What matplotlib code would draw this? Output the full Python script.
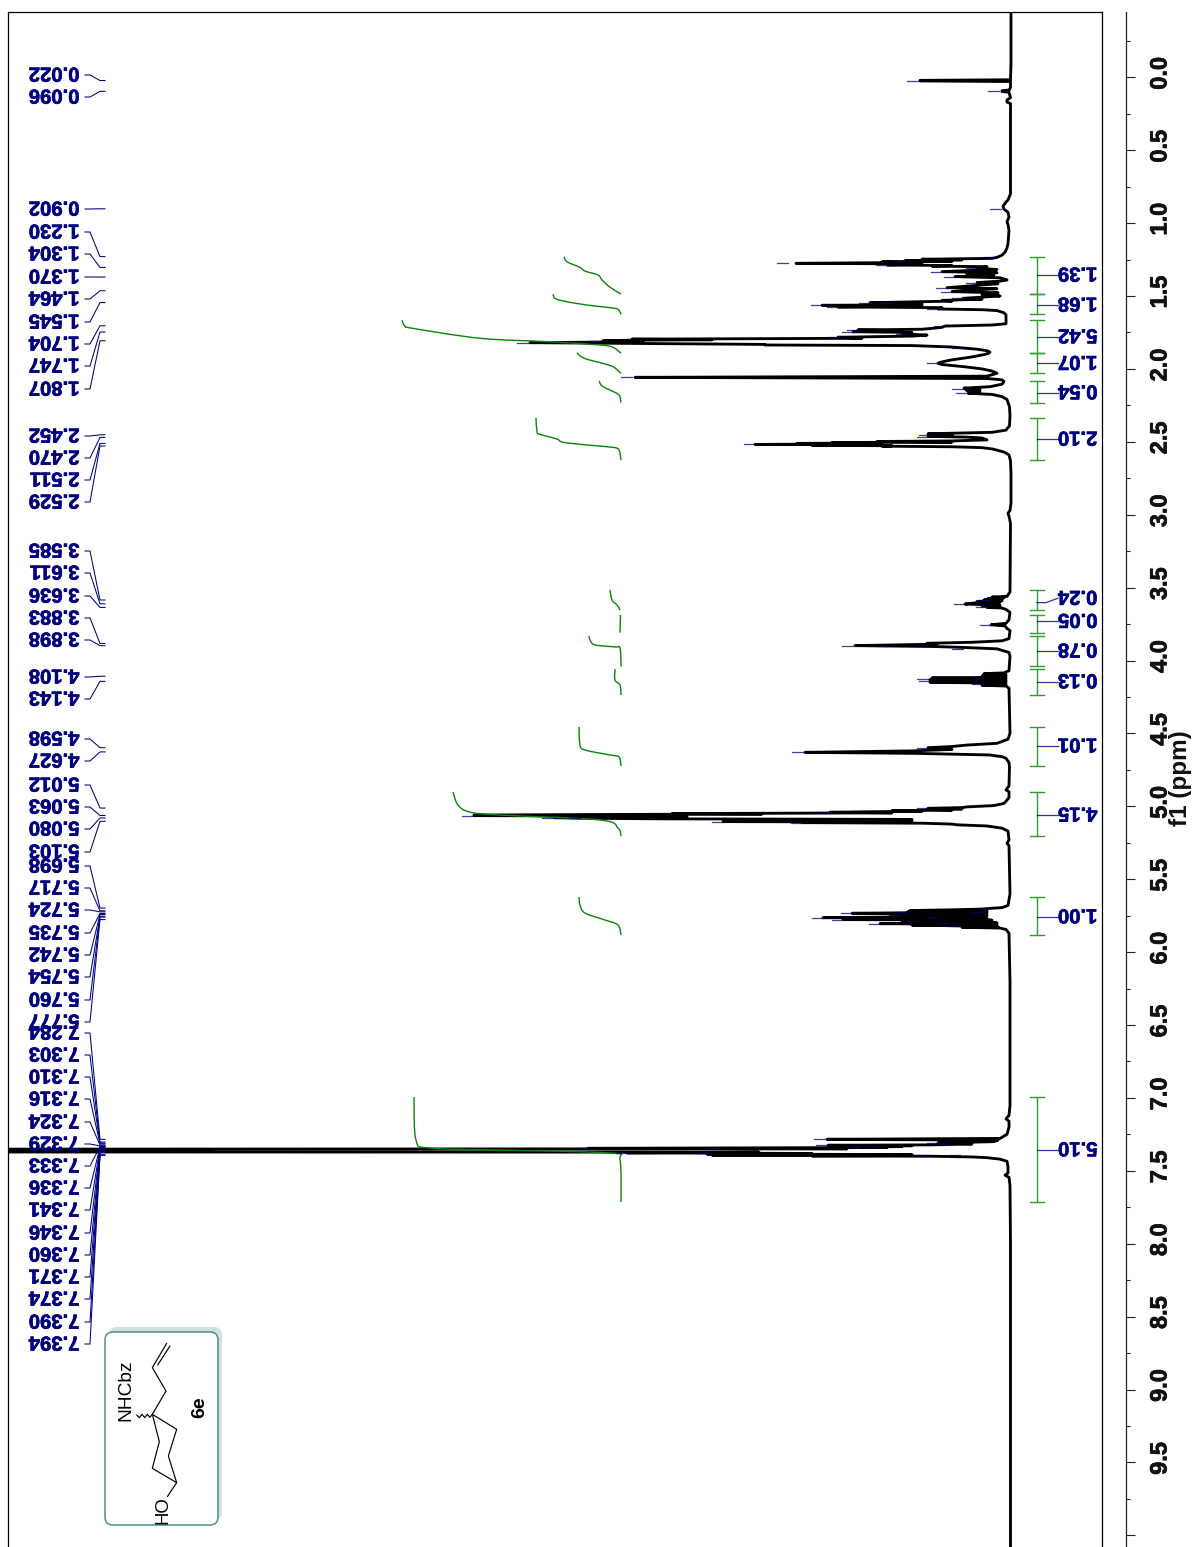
import numpy as np
import matplotlib
matplotlib.use("Agg")
import matplotlib.pyplot as plt
from matplotlib.patches import FancyBboxPatch, PathPatch
from matplotlib.path import Path
from matplotlib.transforms import ScaledTranslation
from matplotlib.ticker import MultipleLocator, FixedLocator
import matplotlib.patheffects as pe

plt.rcParams['font.family'] = ['Liberation Sans', 'DejaVu Sans']

# ---------- spectrum, (ppm, intensity) ----------
seg_upfield = [(-0.45,1),(-0.1,1),(0.0,1.5),(0.017,1.5),(0.021,92),(0.025,92),(0.029,1.5),(0.07,1.5),(0.088,3),(0.092,10),(0.098,10),(0.102,3),
 (0.14,1.5),(0.155,5),(0.17,5),(0.18,1.5),(0.5,1.5),(0.8,1.5),(0.84,4),(0.865,7),(0.885,9),(0.905,8),(0.925,4),(0.96,3),(0.99,5),(1.01,4),(1.05,3),(1.14,4)]
seg_aliphatic = [(1.17,5),(1.20,7),(1.22,10),(1.235,15),(1.242,20),(1.248,90),(1.252,50),(1.258,107),(1.262,60),(1.266,130),(1.27,100),
 (1.276,216),(1.28,90),(1.284,100),(1.287,125),(1.291,60),(1.295,80),(1.299,25),(1.305,30),(1.31,35),(1.318,15),(1.326,45),(1.333,70),
 (1.34,15),(1.35,45),(1.358,18),(1.367,57),(1.375,12),(1.383,8),(1.39,5),(1.398,12),(1.408,35),(1.416,14),(1.43,40),(1.443,65),(1.45,15),
 (1.46,40),(1.47,60),(1.478,14),(1.49,30),(1.50,12),(1.508,30),(1.516,49),(1.522,30),(1.53,70),(1.535,60),(1.546,142),(1.55,90),(1.555,130),
 (1.56,90),(1.564,190),(1.568,90),(1.575,174),(1.58,70),(1.589,74),(1.594,30),(1.60,15),(1.615,8),(1.63,6),(1.69,6),(1.699,20),(1.706,67),
 (1.715,70),(1.722,80),(1.728,90),(1.733,154),(1.738,110),(1.745,159),(1.75,100),(1.755,110),(1.761,105),(1.768,85),(1.775,100),(1.783,174),
 (1.79,150),(1.796,380),(1.80,300),(1.803,380),(1.807,409),(1.814,369),(1.82,482),(1.826,369),(1.832,247),(1.836,247),(1.84,100),(1.85,60),
 (1.865,35),(1.875,25),(1.885,22),(1.895,24),(1.905,30),(1.92,42),(1.94,62),(1.955,72),(1.962,74),(1.97,70),(1.985,48),(2.0,30),(2.015,20),(2.03,15),
 (2.05,25),(2.058,377),(2.066,25),(2.075,10),(2.087,8),(2.105,10),(2.122,22),(2.132,48),(2.14,32),(2.145,46),(2.155,32),(2.167,44),(2.175,20),
 (2.19,10),(2.21,5),(2.26,2.5),(2.32,2),(2.39,2.5),(2.42,6),(2.435,20),(2.445,84),(2.45,60),(2.453,82),(2.458,60),(2.463,84),(2.468,45),(2.474,30),
 (2.487,25),(2.494,60),(2.498,135),(2.502,60),(2.505,180),(2.508,130),(2.511,215),(2.514,130),(2.518,257),(2.521,130),(2.524,200),(2.527,120),
 (2.53,130),(2.534,60),(2.54,30),(2.55,19),(2.57,8),(2.59,3),(2.63,1.5),(2.72,1)]
seg_mid = [(2.92,1),(2.97,2),(2.99,4),(3.01,3),(3.06,1.5),(3.53,2),(3.56,5),(3.565,20),(3.57,8),(3.575,24),(3.58,10),(3.585,28),(3.59,10),
 (3.595,35),(3.60,12),(3.606,38),(3.613,47),(3.62,12),(3.625,30),(3.63,12),(3.636,25),(3.64,10),(3.65,6),(3.67,2),(3.72,3),(3.745,6),(3.755,21),
 (3.763,7),(3.78,5),(3.795,2),(3.85,3),(3.865,10),(3.875,40),(3.882,85),(3.888,75),(3.898,157),(3.904,78),(3.91,50),(3.92,15),(3.945,3),(3.97,2),
 (4.07,3),(4.085,8),(4.09,28),(4.095,6),(4.10,29),(4.105,6),(4.11,30),(4.115,6),(4.12,80),(4.125,6),(4.13,82),(4.135,6),(4.14,82),(4.145,6),
 (4.15,82),(4.155,6),(4.16,30),(4.165,6),(4.17,30),(4.175,6),(4.19,3),(4.5,2),(4.54,4),(4.568,15),(4.58,45),(4.59,60),(4.598,84),(4.61,60),(4.62,100),
 (4.63,207),(4.637,95),(4.648,22),(4.66,10),(4.671,6),(4.70,3),(4.73,2.5),(4.86,3),(4.888,6),(4.90,3),(4.94,3),(4.965,6)]
seg_allyl = [(4.98,8),(4.995,18),(5.004,45),(5.009,50),(5.014,84),(5.018,50),(5.022,85),(5.026,60),(5.03,120),(5.034,90),(5.038,150),(5.041,182),
 (5.045,120),(5.05,340),(5.053,250),(5.056,400),(5.06,538),(5.064,538),(5.067,380),(5.071,325),(5.075,400),(5.078,458),(5.082,432),(5.086,350),(5.09,100),
 (5.094,250),(5.098,100),(5.102,200),(5.105,289),(5.108,100),(5.112,210),(5.116,89),(5.122,60),(5.127,55),(5.135,25),(5.15,10),(5.17,4),(5.23,3),
 (5.254,5),(5.27,3),(5.6,2),(5.68,4),(5.695,10),(5.70,22),(5.705,30),(5.71,60),(5.715,102),(5.72,25),(5.722,104),(5.726,25),(5.73,100),(5.734,160),
 (5.738,25),(5.742,120),(5.745,112),(5.75,25),(5.755,100),(5.76,130),(5.764,189),(5.768,25),(5.772,100),(5.777,169),(5.781,20),(5.785,110),(5.79,20),
 (5.795,100),(5.80,15),(5.805,132),(5.81,15),(5.815,100),(5.82,52),(5.825,14),(5.83,50),(5.835,12),(5.845,6),(5.87,3),(6.2,2),(7.05,2)]
seg_aromatic = [(7.12,3),(7.144,6),(7.16,3),(7.2,3),(7.25,5),(7.27,10),(7.278,12),(7.284,185),(7.29,14),(7.30,18),(7.309,74),(7.316,40),(7.319,62),
 (7.322,80),(7.325,184),(7.328,100),(7.331,170),(7.334,110),(7.337,150),(7.34,125),(7.343,290),(7.346,424),(7.349,165),(7.353,1500),(7.356,800),
 (7.359,1500),(7.362,800),(7.365,1500),(7.368,800),(7.37,1400),(7.372,253),(7.377,385),(7.381,200),(7.385,305),(7.389,100),(7.392,300),(7.395,100),
 (7.398,200),(7.40,81),(7.405,40),(7.41,25),(7.42,12),(7.435,5),(7.47,4),(7.515,4),(7.53,7),(7.545,3),(7.6,2),(8.0,1.5),(10.1,1.5)]

# ---------- peak-pick marks: ppm, intensity at the mark ----------
mark_ppm = [0.023,0.096,0.903,1.230,1.258,1.276,1.287,1.310,1.333,1.367,1.408,1.443,1.470,1.516,1.546,1.546,1.564,1.575,1.589,1.706,1.733,1.745,
 1.761,1.783,1.820,1.807,1.859,1.962,2.058,2.135,2.167,2.453,2.469,2.517,3.585,3.613,3.635,3.759,3.898,3.898,3.894,3.921,4.118,4.127,4.141,4.161,
 4.598,4.630,5.014,5.041,5.064,5.078,5.083,5.105,5.112,5.700,5.722,5.725,5.734,5.745,5.757,5.764,5.777,5.784,5.798,5.805,5.821,7.284,7.309,7.319,
 7.325,7.337,7.337,7.344,7.344,7.376,7.376,7.39,7.399]
mark_int = [94,13,11,17,107,224,125,35,70,57,35,65,60,49,142,122,190,174,74,67,154,159,105,174,484,413,49,74,380,49,45,82,84,257,24,47,25,21,159,124,
 85,49,29,84,82,29,84,209,84,182,539,459,432,289,210,22,104,29,160,112,75,189,169,95,64,132,52,187,74,62,185,152,134,293,424,385,305,52,81]

# ---------- peak labels ----------
peak_labels = ["0.022","0.096","0.902","1.230","1.304","1.370","1.464","1.545","1.704","1.747","1.807","2.452","2.470","2.511","2.529",
 "3.585","3.611","3.636","3.883","3.898","4.108","4.143","4.598","4.627","5.012","5.063","5.080","5.103",
 "5.698","5.717","5.724","5.735","5.742","5.754","5.760","5.777",
 "7.284","7.303","7.310","7.316","7.324","7.329","7.333","7.336","7.341","7.346","7.360","7.371","7.374","7.390","7.394"]
label_px = [75,97,209,232,254,277,299,322,344,366,389,436,458,480,502,551,573,596,618,640,677,699,739,761,785,807,829,852,866,888,910,933,955,977,1000,1022,
 1033,1055,1077,1099,1122,1144,1166,1188,1210,1233,1255,1277,1299,1322,1344]

# ---------- integrals ----------
int_values = ["1.39","1.68","5.42","1.07","0.54","2.10","0.24","0.05","0.78","0.13","1.01","4.15","1.00","5.10"]
int_start = [1.23,1.488,1.667,1.889,2.083,2.335,3.516,3.688,3.832,4.059,4.456,4.902,5.622,6.994]
int_end = [1.486,1.626,1.889,2.03,2.232,2.625,3.654,3.809,4.038,4.237,4.724,5.204,5.883,7.714]
int_label_ppm = [1.356,1.562,1.779,1.962,2.163,2.481,3.573,3.731,3.935,4.145,4.586,5.06,5.757,7.355]
int_bracket_ppm = [1.356,1.562,1.779,1.962,2.163,2.481,3.603,3.731,3.935,4.145,4.586,5.06,5.757,7.355]
int_curves = [
 [(1.486,391),(1.44,402),(1.39,410),(1.356,414),(1.329,427),(1.304,432),(1.265,445),(1.23,448)],
 [(1.626,391),(1.591,394),(1.58,402),(1.562,425),(1.534,449),(1.516,457),(1.488,459)],
 [(1.893,391),(1.852,399),(1.836,412),(1.813,465),(1.79,532),(1.722,599),(1.706,607),(1.667,610)],
 [(2.03,391),(1.985,399),(1.957,412),(1.934,425),(1.91,432),(1.889,435)],
 [(2.232,391),(2.179,393),(2.145,402),(2.117,410),(2.083,413)],
 [(2.625,391),(2.556,393),(2.538,399),(2.522,425),(2.503,449),(2.481,455),(2.449,472),(2.431,475),(2.335,476)],
 [(3.654,392),(3.619,395),(3.585,400),(3.516,402)],
 [(3.809,392),(3.688,391.5)],
 [(4.038,391),(4.024,391),(3.914,392),(3.907,397),(3.893,417),(3.859,422),(3.832,423)],
 [(4.237,391),(4.168,392),(4.134,397),(4.059,397)],
 [(4.724,391),(4.662,393),(4.648,402),(4.614,427),(4.579,432),(4.456,433)],
 [(5.204,391),(5.149,394),(5.094,412),(5.06,512),(5.04,542),(4.992,554),(4.902,559)],
 [(5.883,391),(5.814,394),(5.78,407),(5.732,427),(5.677,432),(5.622,433)],
 [(7.714,391),(7.426,392),(7.378,402),(7.358,512),(7.344,582),(7.289,596),(6.994,598)],
]

# ---------- axis ----------
tick_major = np.arange(0, 10.01, 0.5)
tick_labels = ["%.1f" % t if t < 9.9 else "" for t in tick_major]
NAVY = "#000080"
W, H = 1197, 1547
fig = plt.figure(figsize=(W/100, H/100), dpi=100, facecolor="white")

def y2ppm(y): return (y - 77.3) / 145.8
def x2int(x): return 1012 - x
HEAVY = [pe.withStroke(linewidth=0.45, foreground=NAVY)]
HEAVYK = [pe.withStroke(linewidth=0.5, foreground="#111111")]

ax = fig.add_axes([8/W, 0, (1102-8)/W, (H-12)/H])
ax.set_xlim(x2int(8), x2int(1102))
ax.set_ylim(y2ppm(H), y2ppm(12))
ax.set_xticks([]); ax.set_yticks([])
ax.spines['bottom'].set_visible(False)
for s in ('left', 'right', 'top'):
    ax.spines[s].set_linewidth(0.9)

spec = np.array(seg_upfield + seg_aliphatic + seg_mid + seg_allyl + seg_aromatic)
ax.plot(spec[:, 1], spec[:, 0], color="black", lw=2.05, solid_joinstyle='round', zorder=2)

for p, i in zip(mark_ppm, mark_int):
    ax.plot([i, i + 11], [p, p], color=NAVY, lw=0.9, alpha=0.75, zorder=4)

def smooth_path(pts):
    # Catmull-Rom through the read points, as cubic Bezier pieces
    P = np.array(pts, float)
    Q = np.vstack([P[0], P, P[-1]])
    verts, codes = [P[0]], [Path.MOVETO]
    for k in range(1, len(Q) - 2):
        verts += [Q[k] + (Q[k+1]-Q[k-1])/6, Q[k+1] - (Q[k+2]-Q[k])/6, Q[k+1]]
        codes += [Path.CURVE4] * 3
    return Path(verts, codes)

for c in int_curves:
    c = np.array(c)
    ax.add_patch(PathPatch(smooth_path(c[:, ::-1]), fc="none", ec="#0a840a", lw=1.0, zorder=3))

bx, cap, lx = x2int(1037), 7, x2int(1058)
for a, b, lab, br, v in zip(int_start, int_end, int_label_ppm, int_bracket_ppm, int_values):
    ax.plot([bx, bx], [a, b], color="#2f9e2f", lw=1.0, zorder=3)
    for e in (a, b):
        ax.plot([bx-cap, bx+cap], [e, e], color="#2f9e2f", lw=1.0, zorder=3)
    ax.plot([bx, x2int(1046), lx], [br, br, lab], color=NAVY, lw=0.9, alpha=0.8, zorder=3)
    ax.text(x2int(1058), lab - 1.8/145.8, v, rotation=180, ha='left', va='center', color=NAVY,
            fontsize=14.6, fontweight='bold', zorder=5, path_effects=HEAVY)

for t, y in zip(peak_labels, label_px):
    ly = y2ppm(y)
    target = float(t)
    ax.plot([x2int(85), x2int(90), x2int(100), x2int(105)], [ly, ly, target, target],
            color=NAVY, lw=0.75, zorder=3)
    ax.text(x2int(79.5), y2ppm(y - 1.8), t, rotation=180, ha='right', va='center', color=NAVY,
            fontsize=14.6, fontweight='bold', zorder=5, path_effects=HEAVY)

# ppm scale
ax2 = fig.add_axes([1100/W, 0, 26/W, (H-12)/H])
ax2.set_ylim(y2ppm(H), y2ppm(12))
ax2.set_xticks([])
ax2.patch.set_alpha(0)
for s in ('left', 'top', 'bottom'):
    ax2.spines[s].set_visible(False)
ax2.spines['right'].set_linewidth(0.9)
ax2.spines['right'].set_color("#222222")
ax2.yaxis.tick_right()
ax2.yaxis.set_major_locator(FixedLocator(tick_major))
ax2.yaxis.set_minor_locator(MultipleLocator(0.25))
ax2.set_yticklabels(tick_labels)
ax2.tick_params(axis='y', which='major', length=6.2, width=0.8, color="#222222", pad=10)
ax2.tick_params(axis='y', which='minor', length=3.2, width=0.8, color="#222222")
off = ScaledTranslation(0, 4/100, fig.dpi_scale_trans)
for l in ax2.get_yticklabels():
    l.set_rotation(90)
    l.set_va('center')
    l.set_fontsize(17)
    l.set_fontweight('bold')
    l.set_color("#111111")
    l.set_path_effects(HEAVYK)
    l.set_transform(l.get_transform() + off)

# overlay drawn in picture pixels: axis title and structure box
ov = fig.add_axes([0, 0, 1, 1], zorder=10)
ov.set_xlim(0, W); ov.set_ylim(H, 0); ov.axis('off'); ov.patch.set_alpha(0)
ov.text(1181, 778, "f1 (ppm)", rotation=90, ha='center', va='center', fontsize=17.5, fontweight='bold', color="#111111")
ov.add_patch(FancyBboxPatch((109, 1327), 113, 193, boxstyle="round,pad=0,rounding_size=8", fc="#cfe2e0", ec="none"))
ov.add_patch(FancyBboxPatch((105, 1332), 113, 193, boxstyle="round,pad=0,rounding_size=8", fc="white", ec="#4f8f8f", lw=1.1))

def mol(pts):
    p = np.array(pts, float)
    ov.plot(90 + p[:, 0]/3, 1320 + p[:, 1]/3, color="black", lw=0.85, solid_capstyle='round')

mol([(230,70),(187,143),(228,213),(187,283),(260,328),(235,408),(260,488),(187,445),(208,365),(187,283)])
mol([(240,78),(203,135)])
mol([(260,488),(232,530)])
mol([(187,283),(180,292),(172,283),(164,293),(156,283),(148,293),(140,285)])
ov.text(90+108/3, 1320+210/3, "NHCbz", rotation=90, ha='center', va='center', fontsize=13.8, color="black")
ov.text(163, 1510, "HO", rotation=90, ha='center', va='center', fontsize=13.4, color="black")
ov.text(200, 1407, "6e", rotation=90, ha='center', va='center', fontsize=14, fontweight='bold', color="black")

fig.savefig("out.png", dpi=100)
